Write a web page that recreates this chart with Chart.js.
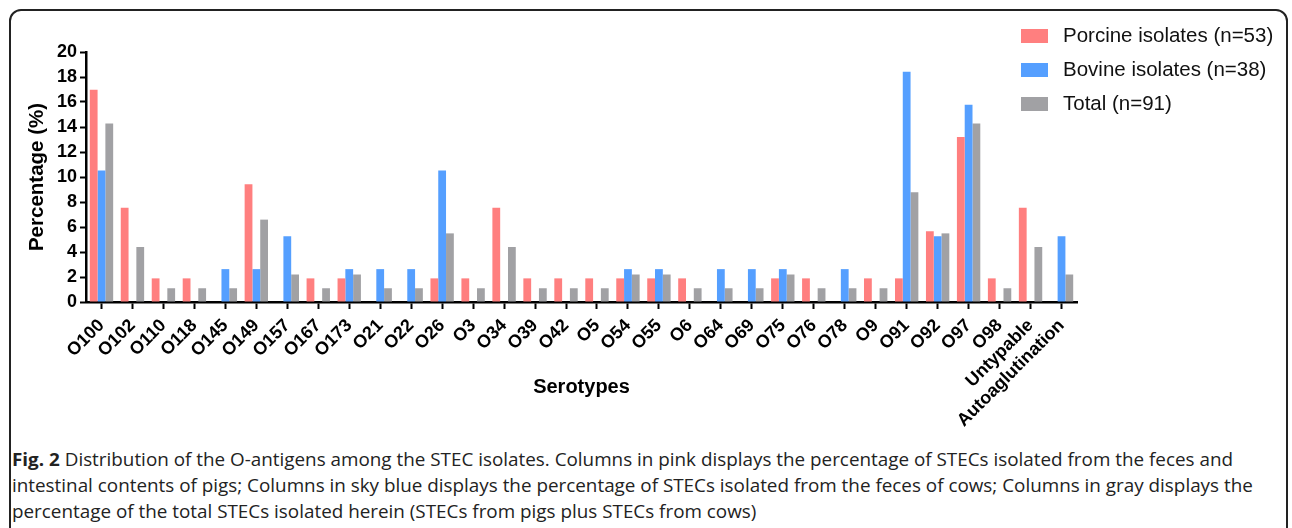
<!DOCTYPE html>
<html>
<head>
<meta charset="utf-8">
<script src="https://cdn.jsdelivr.net/npm/chart.js@4.4.0/dist/chart.umd.min.js"></script>
<style>
    html, body { margin: 0; padding: 0; background: #fff; overflow: hidden; }
    #wrap { position: relative; width: 1292px; height: 528px; }
    #frame {
        position: absolute; left: 9px; top: 9px; width: 1279px; height: 600px;
        border: 2px solid #222; border-radius: 12px; box-sizing: border-box;
    }
    #serotypeChart { position: absolute; left: 0; top: 0; }
    #caption {
        position: absolute; left: 12px; top: 446px;
        font-family: "Open Sans", "Noto Sans", sans-serif;
        font-size: 18.5px; line-height: 26px; color: #222; white-space: nowrap;
        transform-origin: 0 0;
    }
    #caption b { font-weight: bold; }
</style>
</head>
<body>
<div id="wrap">
    <div id="frame"></div>
    <canvas id="serotypeChart" width="1292" height="440"></canvas>
    <div id="caption"><span class="line"><b>Fig. 2</b> Distribution of the O-antigens among the STEC isolates. Columns in pink displays the percentage of STECs isolated from the feces and</span><br><span class="line">intestinal contents of pigs; Columns in sky blue displays the percentage of STECs isolated from the feces of cows; Columns in gray displays the</span><br><span class="line">percentage of the total STECs isolated herein (STECs from pigs plus STECs from cows)</span></div>
</div>
<script>
const serotypes = ['O100', 'O102', 'O110', 'O118', 'O145', 'O149', 'O157', 'O167', 'O173', 'O21', 'O22',
    'O26', 'O3', 'O34', 'O39', 'O42', 'O5', 'O54', 'O55', 'O6', 'O64', 'O69', 'O75', 'O76', 'O78', 'O9',
    'O91', 'O92', 'O97', 'O98', 'Untypable', 'Autoaglutination'];

// percentages per serotype
const porcine = [16.98, 7.55, 1.89, 1.89, 0, 9.43, 0, 1.89, 1.89, 0, 0, 1.89, 1.89, 7.55, 1.89, 1.89,
    1.89, 1.89, 1.89, 1.89, 0, 0, 1.89, 1.89, 0, 1.89, 1.89, 5.66, 13.21, 1.89, 7.55, 0];
const bovine = [10.53, 0, 0, 0, 2.63, 2.63, 5.26, 0, 2.63, 2.63, 2.63, 10.53, 0, 0, 0, 0,
    0, 2.63, 2.63, 0, 2.63, 2.63, 2.63, 0, 2.63, 0, 18.42, 5.26, 15.79, 0, 0, 5.26];
const total = [14.29, 4.40, 1.10, 1.10, 1.10, 6.59, 2.20, 1.10, 2.20, 1.10, 1.10, 5.49, 1.10, 4.40, 1.10, 1.10,
    1.10, 2.20, 2.20, 1.10, 1.10, 1.10, 2.20, 1.10, 1.10, 1.10, 8.79, 5.49, 14.29, 1.10, 4.40, 2.20];

const yTicks = [0, 2, 4, 6, 8, 10, 12, 14, 16, 18, 20];
const seriesNames = ['Porcine isolates (n=53)', 'Bovine isolates (n=38)', 'Total (n=91)'];
const seriesColors = ['#ff7f7f', '#559fff', '#a1a1a4'];

const FONT = '"Liberation Sans", Arial, sans-serif';

// caption: squeeze the first line to the frame width, keep the others at the same scale
const caption = document.getElementById('caption');
const firstLine = caption.querySelector('.line');
const squeeze = 1221 / firstLine.getBoundingClientRect().width;
caption.style.transform = 'scaleX(' + squeeze + ')';

// legend drawn top-right, outside the plot columns
const cornerLegend = {
    id: 'cornerLegend',
    afterDraw(chart) {
        const ctx = chart.ctx;
        ctx.save();
        ctx.font = '20.5px ' + FONT;
        ctx.textBaseline = 'middle';
        chart.data.datasets.forEach((ds, i) => {
            const y = 36 + i * 34;
            ctx.fillStyle = ds.backgroundColor;
            ctx.fillRect(1021, y - 7, 27, 14);
            ctx.fillStyle = '#111';
            ctx.fillText(ds.label, 1063, y);
        });
        ctx.restore();
    }
};

const ctx = document.getElementById('serotypeChart');
const serotypeChart = new Chart(ctx, {
    type: 'bar',
    data: {
        labels: serotypes,
        datasets: [porcine, bovine, total].map((values, i) => ({
            label: seriesNames[i],
            data: values,
            backgroundColor: seriesColors[i],
            borderWidth: 0,
            barPercentage: 1,
            categoryPercentage: 0.755
        }))
    },
    options: {
        responsive: false,
        animation: false,
        layout: { padding: { top: 52, right: 215, left: 0, bottom: 0 } },
        plugins: {
            legend: { display: false },
            tooltip: { enabled: false }
        },
        scales: {
            x: {
                afterFit: (scale) => { scale.height = 138; },
                border: { display: true, color: '#000', width: 2.5 },
                grid: {
                    display: true, drawOnChartArea: false, offset: false,
                    tickLength: 7, tickWidth: 2, tickColor: '#000'
                },
                ticks: {
                    autoSkip: false, minRotation: 45, maxRotation: 45, padding: 6,
                    color: '#000', font: { family: FONT, size: 18, weight: 'bold' }
                },
                title: {
                    display: true, text: 'Serotypes', color: '#000',
                    padding: { top: 0, bottom: 41 },
                    font: { family: FONT, size: 20, weight: 'bold' }
                }
            },
            y: {
                min: 0,
                max: 20,
                afterFit: (scale) => { scale.width = 86; },
                afterBuildTicks: (scale) => { scale.ticks = yTicks.map(v => ({ value: v })); },
                border: { display: true, color: '#000', width: 2.5 },
                grid: {
                    display: true, drawOnChartArea: false,
                    tickLength: 6, tickWidth: 2, tickColor: '#000'
                },
                ticks: {
                    padding: 3, color: '#000',
                    font: { family: FONT, size: 18, weight: 'bold' }
                },
                title: {
                    display: true, text: 'Percentage (%)', color: '#000',
                    padding: { top: 25, bottom: 0 },
                    font: { family: FONT, size: 20.5, weight: 'bold' }
                }
            }
        }
    },
    plugins: [cornerLegend]
});
</script>
</body>
</html>
